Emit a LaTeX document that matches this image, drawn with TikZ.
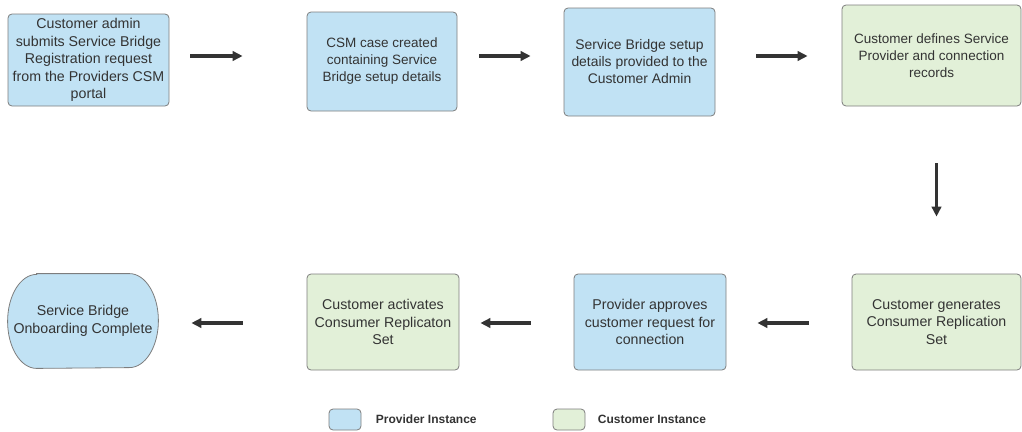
\documentclass[tikz,border=0pt]{standalone}
\usepackage{fontspec}
\setmainfont{Liberation Sans}
\usetikzlibrary{arrows.meta,backgrounds}
\definecolor{provblue}{RGB}{193,226,244}
\definecolor{custgreen}{RGB}{226,240,216}
\definecolor{edgegray}{RGB}{125,125,125}
\definecolor{inkgray}{RGB}{51,51,51}
\tikzset{
  stepbox/.style={draw=edgegray,line width=0.8pt,rounded corners=4pt,inner sep=0pt,
    align=center,text=inkgray,font=\fontsize{14.2}{17.4}\selectfont},
  provbox/.style={stepbox,fill=provblue},
  custbox/.style={stepbox,fill=custgreen},
  flow/.style={draw=inkgray,line width=3.4pt,-{Triangle[length=10pt,width=9.5pt]}},
  keytext/.style={anchor=west,text=inkgray,font=\fontsize{12}{14}\selectfont\bfseries}
}

\begin{document}
\begin{tikzpicture}[line cap=butt,line join=round,x=1pt,y=1pt]
			\useasboundingbox (0,0) rectangle (1022,-431);
			% top row
			\node[provbox,minimum width=161pt,minimum height=92pt] (submit) at (88.5,-60) {Customer admin\\submits Service Bridge\\Registration request\\from the Providers CSM\\portal};
			\node[provbox,minimum width=150pt,minimum height=99pt,font=\fontsize{13.5}{17}\selectfont] (csmcase) at (382,-61.5) {CSM case created\\containing Service\\Bridge setup details};
			\node[provbox,minimum width=151pt,minimum height=108pt,font=\fontsize{13.9}{17}\selectfont] (details) at (639.5,-62) {Service Bridge setup\\details provided to the\\Customer Admin};
			\node[custbox,minimum width=179pt,minimum height=101pt,font=\fontsize{13.5}{17}\selectfont] (defines) at (931.5,-55.5) {Customer defines Service\\Provider and connection\\records};
			% bottom row
			\node[custbox,minimum width=169pt,minimum height=96pt] (generate) at (936.5,-322) {Customer generates\\Consumer Replication\\Set};
			\node[provbox,minimum width=152pt,minimum height=96pt] (approve) at (650,-322) {Provider approves\\customer request for\\connection};
			\node[custbox,minimum width=152pt,minimum height=96pt] (activate) at (383,-322) {Customer activates\\Consumer Replicaton\\Set};
			\node[stepbox,draw=none,minimum width=150pt,minimum height=94pt] (done) at (83,-321) {Service Bridge\\Onboarding Complete};
			\begin{scope}[on background layer]
			\draw[draw=edgegray,line width=0.8pt,fill=provblue] ([xshift=29pt]done.north west) -- ([xshift=-29pt]done.north east)
				arc[start angle=90,end angle=-90,x radius=29pt,y radius=47pt] -- ([xshift=29pt]done.south west)
				arc[start angle=270,end angle=90,x radius=29pt,y radius=47pt] -- cycle;
			\end{scope}
			% arrows
			\draw[flow,shorten <=21pt,shorten >=64pt] ([yshift=4pt]submit.east) -- ([yshift=4pt]submit.east -| csmcase.west);
			\draw[flow,shorten <=22pt,shorten >=33pt] ([yshift=5.5pt]csmcase.east) -- ([yshift=5.5pt]csmcase.east -| details.west);
			\draw[flow,shorten <=41pt,shorten >=34pt] ([yshift=6pt]details.east) -- ([yshift=6pt]details.east -| defines.west);
			\draw[flow,shorten <=57pt,shorten >=57pt] (defines.south -| generate.north) -- (generate.north);
			\draw[flow,shorten <=43pt,shorten >=31pt] ([yshift=-1pt]generate.west) -- ([yshift=-1pt]generate.west -| approve.east);
			\draw[flow,shorten <=43pt,shorten >=21pt] ([yshift=-1pt]approve.west) -- ([yshift=-1pt]approve.west -| activate.east);
			\draw[flow,shorten <=64pt,shorten >=33pt] ([yshift=-1pt]activate.west) -- ([yshift=-1pt]activate.west -| done.east);
			% legend
			\node[provbox,minimum width=32pt,minimum height=21pt] (provkey) at (345,-419.5) {};
			\node[keytext] (provlabel) at ([xshift=11pt]provkey.east) {Provider Instance};
			\node[custbox,minimum width=32pt,minimum height=21pt] (custkey) at (569,-419.5) {};
			\node[keytext] (custlabel) at ([xshift=9pt]custkey.east) {Customer Instance};
			\end{tikzpicture}
\end{document}
